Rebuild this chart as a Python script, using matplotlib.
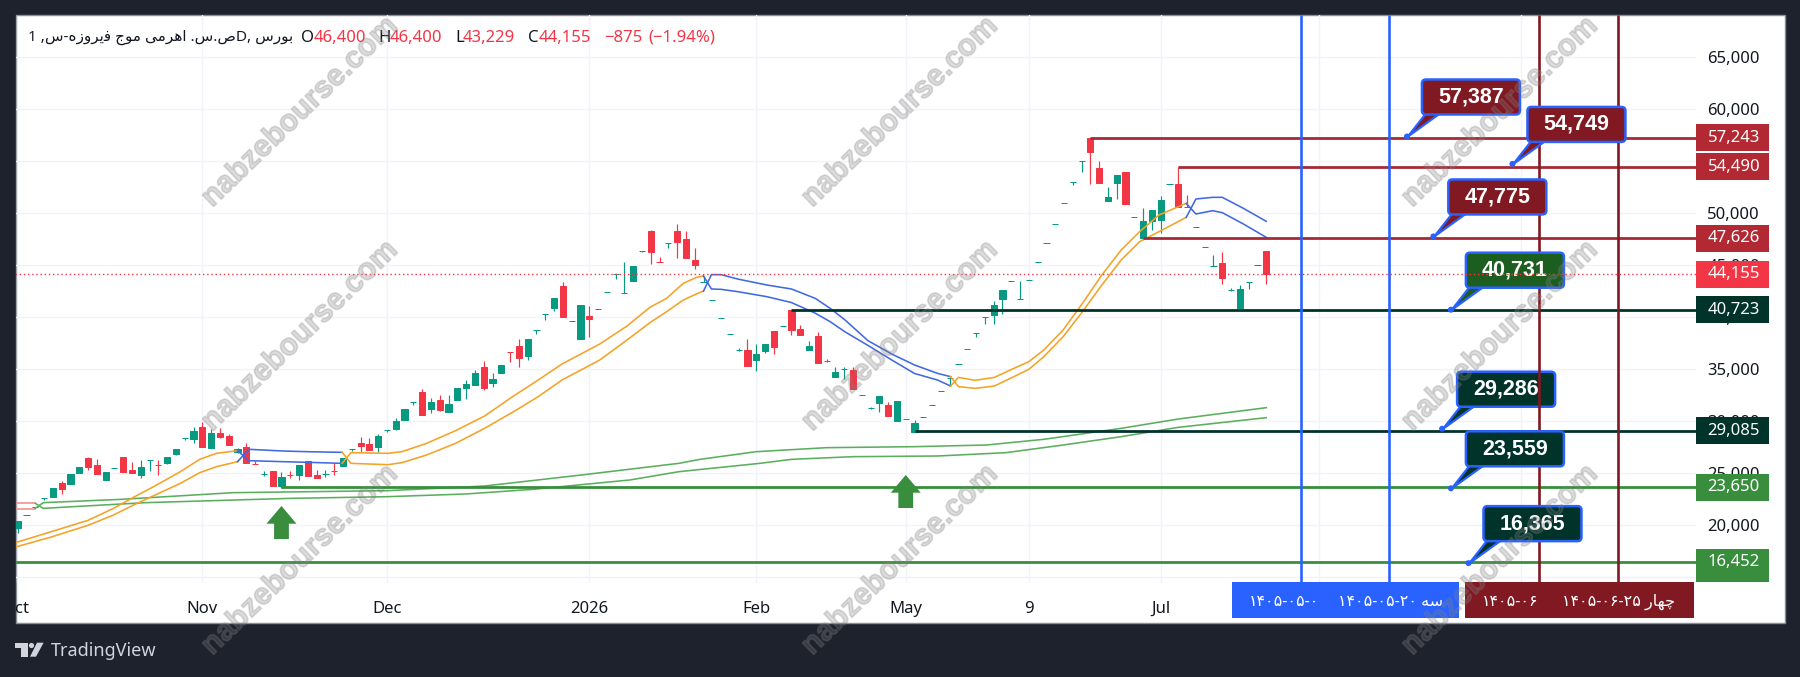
import numpy as np
import matplotlib
matplotlib.use("Agg")
from matplotlib import pyplot as plt
from matplotlib import patheffects
from matplotlib.patches import Rectangle, FancyBboxPatch, Polygon, Circle
from matplotlib.transforms import Affine2D, IdentityTransform, Bbox, TransformedBbox

plt.rcParams['font.family'] = ['Noto Sans', 'DejaVu Sans']

# Daily bars, one row per session: open, close, high, low
bars = [
    (19780, 20420, 20420, 19290), (20950, 20970, 20970, 20950), (21790, 21800, 21800, 21790),
    (22660, 22670, 22670, 22430), (22720, 23560, 23560, 22720), (24070, 23490, 24260, 23010),
    (23970, 24940, 24940, 23970), (25030, 25580, 25580, 25030), (26470, 25610, 26540, 25350),
    (25800, 24970, 26350, 24970), (24360, 25130, 25130, 24360), (25480, 25490, 25490, 25480),
    (26570, 25130, 26570, 25130), (25320, 25030, 26090, 25030), (24840, 25610, 26250, 24580),
    (26240, 26250, 26250, 25220), (25800, 25790, 26250, 24840), (26000, 26570, 26570, 25930),
    (26860, 27340, 27340, 26760), (28360, 28370, 28370, 28240), (28300, 29100, 29420, 27950),
    (29450, 27560, 29900, 27560), (27470, 28910, 29230, 27470), (28910, 28530, 29330, 28430),
    (28590, 27760, 28750, 27760), (27050, 27310, 27400, 26920), (27530, 26030, 27880, 26030),
    (25930, 25920, 26220, 25920), (24930, 24940, 25220, 24740), (25190, 23780, 25190, 23780),
    (23780, 24610, 25130, 23620), (24840, 24830, 25190, 24520), (24840, 25800, 25800, 24390),
    (26150, 24780, 26150, 24780), (24840, 24580, 25290, 24580), (24930, 24940, 25320, 24610),
    (25190, 25180, 25960, 24840), (25740, 26440, 26440, 25740), (27300, 27310, 27310, 27180),
    (27920, 27660, 28460, 27080), (27820, 27240, 28430, 27240), (27560, 28590, 28780, 27020),
    (29130, 29140, 29140, 28970), (29290, 30060, 30290, 29200), (30130, 31150, 31150, 30130),
    (31850, 31860, 31860, 31540), (32850, 30640, 33080, 30640), (31190, 31830, 32240, 30830),
    (32050, 31090, 32500, 31020), (30900, 31670, 32530, 30900), (32050, 33170, 33170, 32050),
    (33200, 33560, 33970, 32110), (33490, 34650, 34930, 33490), (35190, 33170, 35770, 33010),
    (33650, 34070, 34650, 33330), (34650, 35420, 35420, 34650), (36630, 36620, 36640, 35700),
    (37240, 36120, 37880, 35260), (36310, 37920, 37920, 35930), (38740, 38750, 38750, 38430),
    (40280, 40290, 40290, 39770), (40900, 41860, 41860, 40610), (43010, 40030, 43400, 40030),
    (39610, 39620, 39620, 39610), (37950, 41180, 41180, 37950), (40130, 39870, 41090, 38110),
    (40800, 40810, 40810, 40800), (42400, 42410, 42410, 42400), (44130, 44140, 44140, 43720),
    (42300, 42310, 45320, 42300), (43490, 44930, 44930, 43490), (46400, 46410, 46410, 46280),
    (48300, 46280, 48400, 45160), (45290, 45280, 45800, 45280), (47110, 47120, 47120, 46700),
    (48300, 47240, 48970, 45730), (47530, 45740, 48300, 45740), (45510, 45060, 46630, 44680),
    (43390, 43400, 43970, 43390), (41660, 41670, 41670, 41660), (39900, 39910, 39910, 39900),
    (38360, 38370, 38370, 38360), (36820, 36830, 37020, 36760), (36860, 35350, 37880, 35350),
    (35900, 36470, 37430, 34870), (36760, 37430, 37430, 36600), (38650, 37180, 38650, 36510),
    (39130, 39140, 39140, 39130), (40700, 38810, 40700, 38330), (38850, 38330, 39230, 38330),
    (36890, 37240, 37760, 36890), (38170, 35640, 38560, 35640), (35800, 35790, 35990, 35740),
    (34290, 34740, 35220, 34290), (34990, 35000, 35220, 34040), (34940, 33110, 35190, 33110),
    (32530, 32540, 32540, 32530), (31240, 31250, 31380, 31150), (31760, 32430, 32430, 30930),
    (31540, 30540, 31830, 30540), (30060, 31950, 31950, 30060), (30190, 30200, 30200, 30190),
    (28940, 29840, 30130, 28940), (30380, 30390, 30390, 30380), (31570, 31580, 31580, 31570),
    (32880, 32890, 32890, 32880), (34130, 34140, 34140, 33360), (35480, 35490, 35490, 35480),
    (36950, 36960, 36960, 36950), (38460, 38470, 38470, 38140), (40000, 40010, 40010, 39390),
    (40220, 41180, 41570, 39390), (41760, 42630, 42630, 40350), (43460, 43470, 43470, 43460),
    (41730, 41740, 43460, 41730), (43550, 43560, 43560, 43550), (45290, 45300, 45300, 45290),
    (47110, 47120, 47120, 47110), (48940, 48950, 48950, 48940), (50960, 50970, 50970, 50960),
    (52970, 52980, 52980, 52750), (55060, 55070, 55070, 53970), (57243, 55930, 57243, 52850),
    (54360, 52950, 55000, 52950), (51220, 51540, 52530, 51220), (52950, 53680, 53680, 51410),
    (53970, 50930, 53970, 50930), (49610, 49620, 49620, 49610), (47626, 49260, 50480, 47626),
    (49260, 50320, 50320, 48400), (49390, 51280, 51660, 48080), (52790, 52800, 52800, 52790),
    (52820, 50610, 54490, 50610), (50640, 50630, 51730, 50630), (48650, 48660, 48660, 48650),
    (46730, 46740, 46740, 46730), (44900, 44910, 45990, 44900), (45220, 43810, 46280, 43240),
    (42590, 42600, 42790, 42530), (40930, 42720, 43110, 40930), (43360, 43370, 43370, 42760),
    (45000, 45010, 45010, 45000), (46400, 44155, 46400, 43229),
]

# Moving average pairs: bar position, then upper and lower line
orange1_x = [-0.25, 3.7, 8, 10.9, 13.1, 15.8, 18.5, 20.7, 22.6, 25]
orange1_a = [18333, 19358, 20480, 21634, 22659, 23877, 25159, 26345, 26922, 27178]
orange1_b = [17916, 18846, 20000, 20993, 21922, 22980, 24037, 25063, 25640, 26121]

blue1_x = [25, 26.3, 30.2, 33, 36.9]
blue1_a = [26121, 27307, 27146, 27080, 27018]
blue1_b = [27178, 26217, 26120, 26057, 25961]

orange2_x = [36.9, 37.9, 42.1, 43.7, 46.5, 49.8, 53.1, 56.4, 59.2, 61.9, 66.2, 69.3, 71.9, 73.8, 75.7, 77.2, 78]
orange2_a = [25961, 26986, 26922, 27082, 27883, 29101, 30512, 32435, 33973, 35511, 37434, 39165, 40960, 41825, 43267, 43844, 43973]
orange2_b = [27018, 25960, 25832, 26025, 26762, 27883, 29326, 30928, 32371, 33973, 35896, 37819, 39486, 40543, 41665, 42250, 42530]

blue2_x = [78, 78.9, 80, 81.9, 85.2, 88, 90.7, 92.4, 94.1, 96.7, 99.4, 102, 104.6, 106.1]
blue2_a = [42530, 44101, 44101, 43680, 43107, 42723, 41826, 40864, 39742, 37755, 36473, 35416, 34614, 34294]
blue2_b = [43973, 42723, 42691, 42466, 41985, 41420, 40400, 39582, 38600, 37300, 35900, 34600, 33973, 33396]

orange3_x = [106.1, 107, 108.9, 111.1, 113.3, 115, 116.7, 118.9, 121.1, 123.3, 125.5, 127.6, 129.8, 132.9]
orange3_a = [33396, 34229, 33941, 34229, 35095, 35736, 36857, 38781, 41345, 44069, 46473, 48235, 49838, 50960]
orange3_b = [34294, 33332, 33172, 33400, 34300, 35000, 36216, 38140, 40543, 43107, 45511, 47274, 48235, 49613]

blue3_x = [132.9, 134, 135.9, 137, 139.4, 142]
blue3_a = [49613, 51376, 51537, 51537, 50479, 49229]
blue3_b = [50960, 49934, 50254, 50062, 48973, 47691]

green_x = [2, 2.9, 11.8, 24.5, 42.1, 53.1, 64.1, 75.2, 77.6, 84, 92, 102, 110.2, 116.7, 125.5, 132, 142]
green_a = [21634, 22179, 22500, 23140, 23332, 23781, 24839, 25960, 26345, 27082, 27467, 27563, 27723, 28268, 29326, 30223, 31313]
green_low_x = [2, 2.9, 14.5, 31.1, 42.1, 50.9, 58.6, 69.6, 75.2, 84.4, 88, 95, 104.6, 112.4, 118.9, 125.5, 132, 142]
green_b = [22115, 21634, 22179, 22595, 22755, 23012, 23460, 24358, 25159, 25960, 26345, 26601, 26665, 26986, 27723, 28524, 29422, 30351]

pink_x = [-0.25, 2]
pink_a = [22115, 22115]
pink_b = [21537, 21537]

# Horizontal levels: value, first bar of the ray, colour of the ray and of its tag
level_values = [57243, 54490, 47626, 40723, 29085, 23650, 16452]
level_starts = [122, 132, 128, 88, 102, 30, -0.25]
level_colors = ['#a62a36', '#a62a36', '#a62a36', '#00332a', '#00332a', '#388e3c', '#388e3c']
tag_fills = ['#b22833', '#b22833', '#b22833', '#00332a', '#00332a', '#388e3c', '#388e3c']

last_price = 44155

# Vertical date markers
blue_dates = [146, 156]
red_dates = [173, 182]

# Price callouts
callout_values = [57387, 54749, 47775, 40731, 29286, 23559, 16365]
callout_bars = [158, 170, 161, 163, 162, 163, 165]
callout_fills = ['#801922', '#801922', '#801922', '#1b5e20', '#00332a', '#00332a', '#00332a']

# Buy arrows: bar and price at the tip
arrow_bars = [30, 101]
arrow_prices = [21858, 24839]

x_tick_pos = [-0.25, 21, 42, 65, 84, 101, 115, 130, 148, 171]
x_tick_labels = ['Oct', 'Nov', 'Dec', '2026', 'Feb', 'May', '9', 'Jul', '', '']
y_tick_pos = list(range(15000, 70000, 5000))

UP = '#089981'
DOWN = '#f23645'
DARK = '#1e222d'
TEXT = '#131722'
FIG_W, FIG_H = 1800, 677


def box(x0, y0, x1, y1):
    # Screen rectangle given from the top left corner of the image
    return Rectangle((x0, FIG_H - y1), x1 - x0, y1 - y0, transform=IdentityTransform(), lw=0)


def draw_pair(ax, x, a, b, color, x_b=None, alpha=1.0):
    ax.plot(x, a, color=color, lw=1.15, alpha=alpha, zorder=3, solid_joinstyle='round')
    ax.plot(x if x_b is None else x_b, b, color=color, lw=1.15, alpha=alpha, zorder=3, solid_joinstyle='round')


def draw_callout(ax, bar, value, fill, z):
    px, py = ax.transData.transform((bar, value))
    t = Affine2D().translate(px, py)
    ax.add_patch(Polygon([(1, 0), (19, 23), (33, 23)], closed=True, transform=t, fc=fill, ec='#2962ff',
                         lw=1.6, joinstyle='round', zorder=z))
    ax.add_patch(FancyBboxPatch((15, 22), 98, 35, boxstyle='round,pad=0,rounding_size=4', transform=t,
                                fc=fill, ec='#2962ff', lw=1.8, zorder=z))
    ax.add_patch(Circle((0, 0), 3, transform=t, fc='#2962ff', lw=0, zorder=z))
    ax.text(64, 39.5, f'{value:,}', transform=t, color='white', family='Liberation Sans', fontsize=15.5,
            fontweight='bold', ha='center', va='center', zorder=z + 0.5)


def draw_arrow(ax, bar, price):
    px, py = ax.transData.transform((bar, price))
    t = Affine2D().translate(px, py)
    shape = [(0, 0), (15, -17.7), (7.4, -17.7), (7.4, -33), (-7.4, -33), (-7.4, -17.7), (-15, -17.7)]
    ax.add_patch(Polygon(shape, closed=True, transform=t, fc='#388e3c', lw=0, zorder=4.1))


fig = plt.figure(figsize=(18, 6.77), dpi=100, facecolor=DARK)

# White panel behind the chart
panel = box(15.5, 15, 1785, 623)
panel.set(facecolor='white', edgecolor='#8a8e99', linewidth=1, zorder=-5)
fig.add_artist(panel)

ax = fig.add_axes([15.5 / FIG_W, (FIG_H - 583) / FIG_H, (1695.6 - 15.5) / FIG_W, 568 / FIG_H])
ax.patch.set_alpha(0)
ax.set_xlim(-0.25, 190.83)
ax.set_ylim(14455, 69068)
for side in ax.spines.values():
    side.set_visible(False)

ax.set_xticks(x_tick_pos)
ax.set_xticklabels(x_tick_labels, fontsize=12, color=TEXT)
ax.set_yticks(y_tick_pos)
ax.set_yticklabels(['' if v == 15000 else f'{v:,}' for v in y_tick_pos], fontsize=12, color=TEXT)
ax.yaxis.tick_right()
ax.tick_params(axis='both', length=0)
ax.tick_params(axis='x', pad=13)
ax.tick_params(axis='y', pad=8.4)
ax.grid(True, color='#f0f3fa', lw=1)
ax.set_axisbelow(True)
ax.get_xticklabels()[3].set_fontweight('bold')

# The first month label runs off the panel edge
panel_clip = TransformedBbox(Bbox([[15.5, 0], [1785, FIG_H]]), IdentityTransform())
oct_label = ax.get_xticklabels()[0]
oct_label.set_clip_box(panel_clip)
oct_label.set_clip_on(True)

# Candles
opens = np.array([b[0] for b in bars])
closes = np.array([b[1] for b in bars])
highs = np.array([b[2] for b in bars])
lows = np.array([b[3] for b in bars])
bar_x = np.arange(len(bars))
colors = [UP if c >= o else DOWN for o, c in zip(opens, closes)]
ax.vlines(bar_x, lows, highs, colors=colors, lw=0.85, zorder=2)
ax.bar(bar_x, np.abs(closes - opens), bottom=np.minimum(opens, closes), width=0.7,
       color=colors, edgecolor=colors, linewidth=0.72, zorder=2)

# Moving average ribbons
draw_pair(ax, pink_x, pink_a, pink_b, '#f28b8b')
draw_pair(ax, green_x, green_a, green_b, '#5cae5f', x_b=green_low_x)
draw_pair(ax, orange1_x, orange1_a, orange1_b, '#f5a226')
draw_pair(ax, blue1_x, blue1_a, blue1_b, '#4169e1')
draw_pair(ax, orange2_x, orange2_a, orange2_b, '#f5a226')
draw_pair(ax, blue2_x, blue2_a, blue2_b, '#4169e1')
draw_pair(ax, orange3_x, orange3_a, orange3_b, '#f5a226')
draw_pair(ax, blue3_x, blue3_a, blue3_b, '#4169e1')

# Level rays
for value, start, color in zip(level_values, level_starts, level_colors):
    ax.hlines(value, start, 190.83, color=color, lw=2.0, zorder=4)

# Date markers
ax.vlines(blue_dates, 14455, 69068, color='#2962ff', lw=1.9, zorder=5)
ax.vlines(red_dates, 14455, 69068, color='#801922', lw=1.9, zorder=5)

for bar, price in zip(arrow_bars, arrow_prices):
    draw_arrow(ax, bar, price)

for bar, value, fill in zip(callout_bars, callout_values, callout_fills):
    # this one sits under the date marker
    draw_callout(ax, bar, value, fill, 4.2 if value == 29286 else 6)

# Last price line
ax.hlines(last_price, -0.25, 190.83, color=DOWN, lw=1, linestyles=(0, (1, 2)), zorder=7)

# Price axis tags
tag_colors = dict(zip(level_values, tag_fills))
tag_colors[last_price] = DOWN
for value, color in tag_colors.items():
    y = FIG_H - ax.transData.transform((0, value))[1]
    bottom = 582 if value == 16452 else y + 13.5
    tag = box(1695.6, y - 13.5, 1769, bottom)
    tag.set(facecolor=color, zorder=2)
    fig.add_artist(tag)
    fig.text(1707.5 / FIG_W, (FIG_H - y) / FIG_H, f'{value:,}', color='white', fontsize=12, va='center', zorder=3)

# Date tags under the chart. matplotlib does no Arabic shaping, so Persian text
# is written with presentation forms in left to right order.
for x0, x1, color in [(1232, 1459, '#2962ff'), (1465, 1693.7, '#801922')]:
    tag = box(x0, 582, x1, 617.7)
    tag.set(facecolor=color, zorder=2)
    fig.add_artist(tag)
date_texts = [
    (1284.5, '۱۴۰۵-۰۵-۰'),
    (1390.5, '۱۴۰۵-۰۵-۲۰ \ufeea\ufeb3'),
    (1510.5, '۱۴۰۵-۰۶'),
    (1619, '۱۴۰۵-۰۶-۲۵ \ufead\ufe8e\ufeec\ufb7c'),
]
for x, label in date_texts:
    fig.text(x / FIG_W, (FIG_H - 602) / FIG_H, label, color='white', fontsize=11.5, ha='center', va='center', zorder=3)

# Legend line above the chart
header_y = (FIG_H - 37.7) / FIG_H
symbol = ('1 ,\ufeb1-\ufee9\ufeaf\ufeed\ufeae\ufbfe\ufed3 \ufe9d\ufeee\ufee3 '
          '\ufbfd\ufee3\ufeae\ufeeb\ufe8d .\ufeb1.\ufeb9D, \ufeb1\ufead\ufeee\ufe91')
fig.text(27.6 / FIG_W, header_y, symbol, color=TEXT, fontsize=11, va='center', zorder=3)
header_parts = [
    (301.5, 'O', TEXT), (314, '46,400', DOWN), (378, 'H', TEXT), (390, '46,400', DOWN),
    (455.6, 'L', TEXT), (463, '43,229', DOWN), (528, 'C', TEXT), (539, '44,155', DOWN),
    (604.5, '\u2212875', DOWN), (648, '(\u22121.94%)', DOWN),
]
for x, label, color in header_parts:
    fig.text(x / FIG_W, header_y, label, color=color, fontsize=12, va='center', zorder=3)

# TradingView mark in the footer
logo = [
    [(15, 642.7), (27.5, 642.7), (27.5, 656.7), (21, 656.7), (21, 648), (15, 648)],
    [(37, 642.7), (43.6, 642.7), (36, 656.7), (30, 656.7)],
]
for shape in logo:
    fig.add_artist(Polygon([(x, FIG_H - y) for x, y in shape], closed=True, transform=IdentityTransform(),
                           fc='#d1d4dc', lw=0, zorder=3))
fig.add_artist(Circle((31.5, FIG_H - 645.5), 2.6, transform=IdentityTransform(), fc='#d1d4dc', lw=0, zorder=3))
fig.text(51 / FIG_W, (FIG_H - 651) / FIG_H, 'TradingView', color='#d1d4dc', fontsize=13, fontweight='medium',
         va='center', zorder=3)

# Site watermark
for wx in [300, 900, 1500]:
    for wy in [112, 336, 560]:
        mark = fig.text(wx / FIG_W, (FIG_H - wy) / FIG_H, 'nabzebourse.com', color='#808080', alpha=0.27,
                        family='Liberation Sans', fontsize=22, fontweight='bold', rotation=44,
                        rotation_mode='anchor', ha='center', va='center', zorder=10)
        mark.set_path_effects([patheffects.Stroke(linewidth=1.2, foreground='#808080')])

fig.savefig('out.png', dpi=100, facecolor=fig.get_facecolor())
